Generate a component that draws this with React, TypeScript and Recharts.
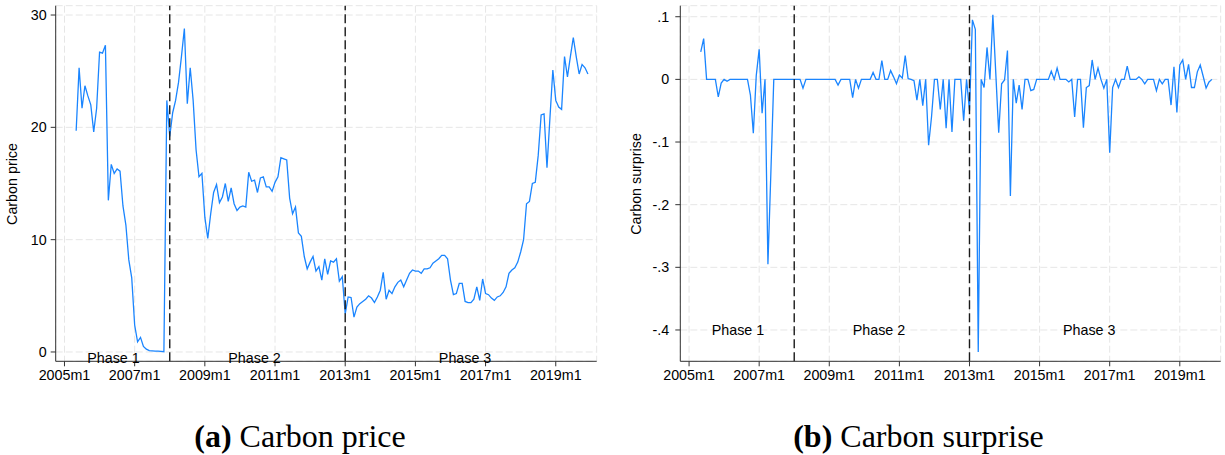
import React from 'react';
import { LineChart, Line, XAxis, YAxis, CartesianGrid, ReferenceLine, ReferenceDot, Label } from 'recharts';

// months counted from 2005m1 (= 0); first observation is 2005m5
const FIRST_MONTH = 4;

const carbonPrice = [
  19.7, 25.3, 21.7, 23.7, 22.8, 22.0, 19.6, 21.7, 26.7, 26.6,
  27.3, 13.5, 16.7, 15.9, 16.3, 16.1, 13.0, 11.3, 8.2, 6.6,
  2.4, 0.9, 1.3, 0.5, 0.25, 0.12, 0.1, 0.08, 0.07, 0.05,
  0.02, 22.4, 19.2, 21.3, 22.4, 24.0, 26.3, 28.8, 22.1, 25.3,
  22.4, 18.0, 15.6, 15.9, 12.0, 10.1, 12.3, 14.2, 14.9, 13.3,
  13.8, 15.0, 13.4, 14.6, 13.2, 12.6, 12.9, 13.0, 12.9, 16.0,
  15.2, 15.3, 14.2, 15.5, 15.6, 14.7, 14.7, 14.3, 15.1, 15.6,
  17.3, 17.2, 17.1, 13.7, 12.3, 12.9, 10.6, 10.3, 8.5, 7.4,
  8.0, 8.5, 7.2, 7.6, 6.4, 8.3, 6.9, 8.1, 8.0, 8.3,
  6.3, 6.7, 3.4, 4.9, 4.85, 3.1, 4.0, 4.3, 4.5, 4.7,
  5.0, 4.8, 4.4, 4.9, 5.5, 7.1, 4.7, 5.5, 5.2, 5.8,
  6.2, 6.4, 5.8, 6.4, 7.0, 7.3, 7.2, 7.2, 7.0, 7.4,
  7.4, 7.5, 7.9, 8.1, 8.3, 8.6, 8.6, 8.3, 6.4, 5.1,
  5.2, 6.1, 6.1, 4.5, 4.4, 4.4, 4.7, 5.8, 4.6, 6.5,
  5.2, 5.1, 4.8, 4.6, 4.9, 5.0, 5.3, 5.8, 7.0, 7.3,
  7.5, 8.0, 8.9, 10.0, 13.2, 13.4, 15.0, 15.1, 17.5, 21.1,
  21.2, 16.4, 20.8, 25.1, 22.4, 21.8, 21.6, 26.3, 24.5, 26.3,
  28.0, 26.3, 24.75, 25.6, 25.3, 24.75,
];

const carbonSurprise = [
  0.044, 0.065, 0, 0, 0, 0, -0.028, -0.006, 0, -0.003,
  0, 0, 0, 0, 0, 0, 0, -0.025, -0.086, 0.006,
  0.048, -0.054, 0, -0.295, -0.15, 0, 0, 0, 0, 0,
  0, 0, 0, 0, 0, -0.014, 0, 0, 0, 0,
  0, 0, 0, 0, 0, 0, 0, -0.009, 0, 0,
  0, 0, -0.029, 0, -0.014, 0, 0, 0, 0, 0.011,
  0, 0, 0.030, 0, 0, 0.014, 0.004, -0.007, 0.007, 0.002,
  0.038, 0.001, 0, -0.002, -0.033, 0, -0.042, 0, -0.105, -0.06,
  0, 0, -0.048, 0, -0.078, 0, -0.084, 0, 0, 0,
  -0.066, 0, -0.05, 0.095, 0.08, -0.435, 0, -0.013, 0.051, 0,
  0.103, 0.01, -0.085, -0.007, -0.001, 0.046, -0.186, 0, -0.038, -0.009,
  -0.048, 0, 0, -0.018, -0.016, 0, 0, 0, 0, 0,
  0.013, 0, 0.018, 0, 0, 0, -0.004, 0, -0.06, 0,
  0, -0.077, -0.013, -0.01, 0.031, 0, 0.018, 0, -0.014, 0,
  -0.117, -0.013, 0, -0.013, 0, 0, 0.021, 0, 0, 0,
  0.004, 0, -0.007, 0, 0, 0, -0.018, 0, -0.007, 0,
  0, -0.041, 0.020, -0.053, 0.023, 0.031, 0, 0.024, -0.013, -0.013,
  0.012, 0.023, 0.005, -0.014, -0.004, 0,
];

const xTicks = [0, 24, 48, 72, 96, 120, 144, 168];
const xTickLabels = ['2005m1', '2007m1', '2009m1', '2011m1', '2013m1', '2015m1', '2017m1', '2019m1'];
const priceTicks = [0, 10, 20, 30];
const priceTickLabels = ['0', '10', '20', '30'];
const surpriseTicks = [-0.4, -0.3, -0.2, -0.1, 0, 0.1];
const surpriseTickLabels = ['-.4', '-.3', '-.2', '-.1', '0', '.1'];
const phaseBreaks = [36, 96];
const phaseNames = ['Phase 1', 'Phase 2', 'Phase 3'];
const phaseLabelMonths = [16.75, 65, 137];

const priceData = carbonPrice.map((v, i) => ({ t: FIRST_MONTH + i, v }));
const surpriseData = carbonSurprise.map((v, i) => ({ t: FIRST_MONTH + i, v }));

const SANS = '"Liberation Sans", Arial, Helvetica, sans-serif';
const SERIF = '"Liberation Serif", "DejaVu Serif", serif';
const LINE_BLUE = '#1a85ff';

type PanelProps = {
  data: { t: number; v: number }[];
  left: number;
  width: number;
  yWidth: number;
  marginRight: number;
  yDomain: [number, number];
  yTicks: number[];
  yTickLabels: string[];
  yTickMargin: number;
  yTitle: string;
  titleX: number;
  phaseY: number;
};

function Panel(p: PanelProps) {
  const fmtX = (t: number) => xTickLabels[xTicks.indexOf(t)] ?? '';
  const fmtY = (v: number) => {
    const idx = p.yTicks.findIndex((k) => Math.abs(k - v) < 1e-9);
    return idx >= 0 ? p.yTickLabels[idx] : '';
  };
  const titleY = 184;
  return (
    <div style={{ position: 'absolute', left: p.left, top: 0 }}>
      <LineChart
        width={p.width}
        height={400}
        data={p.data}
        margin={{ top: 5.7, right: p.marginRight, bottom: 8.7, left: 0 }}
      >
        <CartesianGrid stroke="#e6e6e6" strokeDasharray="7 3" strokeWidth={1} />
        <XAxis
          type="number"
          dataKey="t"
          domain={[-3, 182]}
          ticks={xTicks}
          interval={0}
          tickFormatter={fmtX}
          height={30}
          tickSize={5}
          tickMargin={4}
          stroke="#333"
          tick={{ fill: '#000', fontSize: 14.3, fontFamily: SANS }}
          allowDataOverflow
        />
        <YAxis
          type="number"
          domain={p.yDomain}
          ticks={p.yTicks}
          interval={0}
          tickFormatter={fmtY}
          width={p.yWidth}
          tickSize={5}
          tickMargin={p.yTickMargin}
          stroke="#333"
          tick={{ fill: '#000', fontSize: 14.3, fontFamily: SANS }}
          allowDataOverflow
        >
          <Label
            content={() => (
              <text
                x={p.titleX}
                y={titleY}
                transform={`rotate(-90 ${p.titleX} ${titleY})`}
                textAnchor="middle"
                dominantBaseline="central"
                fontSize={14.3}
                fontFamily={SANS}
                fill="#000"
              >
                {p.yTitle}
              </text>
            )}
          />
        </YAxis>
        <Line
          type="linear"
          dataKey="v"
          stroke={LINE_BLUE}
          strokeWidth={1.3}
          dot={false}
          activeDot={false}
          isAnimationActive={false}
        />
        {phaseBreaks.map((b) => (
          <ReferenceLine key={b} x={b} stroke="#1a1a1a" strokeWidth={1.4} strokeDasharray="9 4" />
        ))}
        {phaseNames.map((name, i) => (
          <ReferenceDot
            key={name}
            x={phaseLabelMonths[i]}
            y={p.phaseY}
            r={0}
            fill="none"
            stroke="none"
            ifOverflow="visible"
            label={{ value: name, position: 'center', fill: '#000', fontSize: 14.3, fontFamily: SANS }}
          />
        ))}
      </LineChart>
    </div>
  );
}

const captionStyle: React.CSSProperties = {
  position: 'absolute',
  top: 416,
  textAlign: 'center',
  fontFamily: SERIF,
  fontSize: 32,
  lineHeight: '40px',
  color: '#000',
  whiteSpace: 'nowrap',
};

export default function App() {
  return (
    <div style={{ position: 'absolute', left: 0, top: 0, width: 1225, height: 455, background: '#fff' }}>
      <Panel
        data={priceData}
        left={0}
        width={600}
        yWidth={55.7}
        marginRight={3.3}
        yDomain={[-0.83, 30.83]}
        yTicks={priceTicks}
        yTickLabels={priceTickLabels}
        yTickMargin={4}
        yTitle="Carbon price"
        titleX={12}
        phaseY={-0.5}
      />
      <Panel
        data={surpriseData}
        left={612}
        width={613}
        yWidth={68.3}
        marginRight={4.3}
        yDomain={[-0.45, 0.1176]}
        yTicks={surpriseTicks}
        yTickLabels={surpriseTickLabels}
        yTickMargin={6}
        yTitle="Carbon surprise"
        titleX={24}
        phaseY={-0.4}
      />
      <div style={{ ...captionStyle, left: 0, width: 600 }}>
        <b>(a)</b> Carbon price
      </div>
      <div style={{ ...captionStyle, left: 612, width: 613 }}>
        <b>(b)</b> Carbon surprise
      </div>
    </div>
  );
}
